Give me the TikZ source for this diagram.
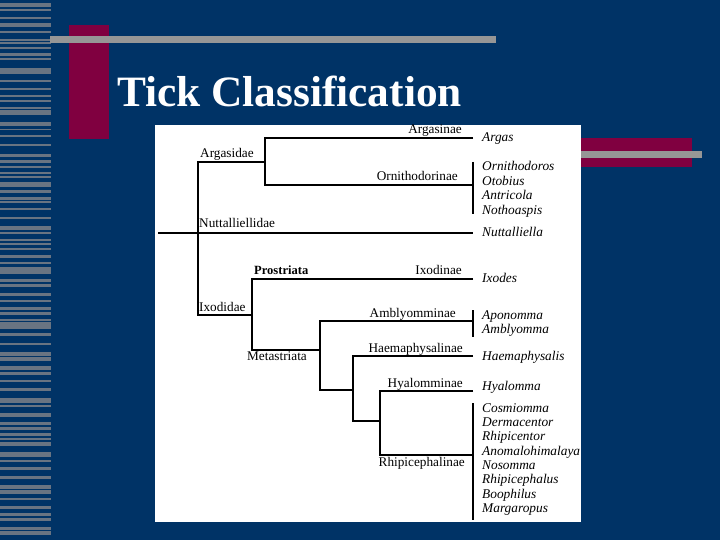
\documentclass[tikz,border=0pt]{standalone}
\usepackage{fontspec}
\setmainfont{Liberation Serif}
\usetikzlibrary{positioning}
\definecolor{slideblue}{RGB}{0,51,102}
\definecolor{slidemaroon}{RGB}{128,0,64}
\definecolor{slidegray}{RGB}{150,150,150}
\definecolor{stripegray}{RGB}{105,116,130}
\tikzset{
  branch/.style={line width=2.7bp, black},
  clade/.style={inner sep=0, font=\fontsize{13.3}{14}\selectfont},
  genus/.style={inner sep=0, text height=11bp, text depth=3bp, font=\fontsize{13.4}{14}\selectfont\itshape},
}

\begin{document}
\begin{tikzpicture}[x=1bp, y=-1bp]
    % Slide
    \useasboundingbox (0,0) rectangle (720,540);
    \fill[slideblue] (0,0) rectangle (720,540);
    \foreach \y/\h in {3/4.5, 9.5/1.5, 17/2, 23/4, 31/2, 39.5/1.5, 42/2, 47/2, 53/3, 58/2.5, 68/6, 80/2, 88/2, 95/2.5, 100/2, 107/2, 110/5, 122/4, 129/1, 135/2, 144/2, 154/3.5, 160/3, 166/2, 172/2, 176/2, 182/5, 190/3, 197/3, 201/2, 208/2, 217/2, 226/4, 232/2, 239/2, 243/2.5, 248/2, 255/3.5, 262/2, 267/2.5, 270/4, 279/2.5, 284/3, 293/3, 300/2, 307/2.5, 312/3, 319/1.5, 322/6.5, 333/2.5, 343/2, 352/3.5, 357/3.5, 366/4, 372/2.5, 380/2, 388/2.5, 398/4.5, 405/2, 413/3.5, 422/2.5, 427/2.5, 433/2.5, 438/2, 442/3.5, 452/5, 460/2, 467/2.5, 476/2.5, 485/3.5, 490/3.5, 498/2, 506/2.5, 513/2.5, 518/3, 527/2.5, 531/4}
        \fill[stripegray] (0,\y) rectangle (51,\y+\h);
    \fill[slidemaroon] (69,25) rectangle (109,139);
    \fill[slidegray] (50,36) rectangle (496,43);
    \fill[slidemaroon] (575,138) rectangle (692,167);
    \fill[slidegray] (560,151) rectangle (702,158);
    \node[anchor=base west, inner sep=0, text=white, font=\fontsize{43.5}{50}\selectfont\bfseries] (title) at (117,107) {Tick Classification};
    \fill[white] (155,125) rectangle (581,522);

    % Coordinates
    \coordinate (r-left) at (158,233);
    \coordinate (n-root) at (198,233);
    \coordinate (n-argasidae) at (265,162);
    \coordinate (n-ixodidae) at (252,315);
    \coordinate (n-metastriata) at (320,350);
    \coordinate (n-m2) at (353,390);
    \coordinate (n-m3) at (380,421);
    \coordinate (t-argas) at (473,138);
    \coordinate (t-orn) at (473,185);
    \coordinate (t-nutt) at (473,233);
    \coordinate (t-ixodes) at (473,279);
    \coordinate (t-ambly) at (473,321);
    \coordinate (t-haema) at (473,356);
    \coordinate (t-hyal) at (473,391);
    \coordinate (t-rhipi) at (473,455);
    \coordinate (b-orn-top) at (473,162);
    \coordinate (b-orn-bot) at (473,214);
    \coordinate (b-ambly-top) at (473,310);
    \coordinate (b-ambly-bot) at (473,337);
    \coordinate (b-rhipi-top) at (473,403);
    \coordinate (b-rhipi-bot) at (473,520);

    % Branches
    \draw[branch] (r-left) -- (t-nutt);
    \draw[branch] (n-argasidae) -| (n-root) |- (n-ixodidae);
    \draw[branch] (t-argas) -| (n-argasidae) |- (t-orn);
    \draw[branch] (t-ixodes) -| (n-ixodidae) |- (n-metastriata);
    \draw[branch] (t-ambly) -| (n-metastriata) |- (n-m2);
    \draw[branch] (t-haema) -| (n-m2) |- (n-m3);
    \draw[branch] (t-hyal) -| (n-m3) |- (t-rhipi);
    \draw[branch] (b-orn-top) -- (b-orn-bot);
    \draw[branch] (b-ambly-top) -- (b-ambly-bot);
    \draw[branch] (b-rhipi-top) -- (b-rhipi-bot);

    % Clade labels
    \node[clade, anchor=base west] (l-argasidae) at (200,158) {Argasidae};
    \node[clade, anchor=base west] (l-nuttalliellidae) at (199,228) {Nuttalliellidae};
    \node[clade, anchor=base west] (l-ixodidae) at (199,311) {Ixodidae};
    \node[clade, anchor=base west, font=\fontsize{12.6}{14}\selectfont\bfseries] (l-prostriata) at (254,275) {Prostriata};
    \node[clade, anchor=base west] (l-metastriata) at (247,360) {Metastriata};
    \node[clade, anchor=base east] (l-argasinae) at (462,134) {Argasinae};
    \node[clade, anchor=base east] (l-ornithodorinae) at (458,181) {Ornithodorinae};
    \node[clade, anchor=base east] (l-ixodinae) at (462,275) {Ixodinae};
    \node[clade, anchor=base east] (l-amblyomminae) at (456,317) {Amblyomminae};
    \node[clade, anchor=base east] (l-haemaphysalinae) at (463,352) {Haemaphysalinae};
    \node[clade, anchor=base east] (l-hyalomminae) at (463,387) {Hyalomminae};
    \node[clade, anchor=base east] (l-rhipicephalinae) at (465,466) {Rhipicephalinae};

    % Genera
    \node[genus, right=9bp of t-argas] (g-argas) {Argas};
    \node[genus, right=9bp of t-nutt] (g-nuttalliella) {Nuttalliella};
    \node[genus, right=9bp of t-ixodes] (g-ixodes) {Ixodes};
    \node[genus, right=9bp of t-haema] (g-haemaphysalis) {Haemaphysalis};
    \node[genus, anchor=west] (g-hyalomma) at (482,386) {Hyalomma};
    \node[genus, anchor=west] (g-ornithodoros) at (482,167) {Ornithodoros};
    \node[genus, below=0pt of g-ornithodoros.south west, anchor=north west] (g-otobius) {Otobius};
    \node[genus, below=0pt of g-otobius.south west, anchor=north west] (g-antricola) {Antricola};
    \node[genus, below=0pt of g-antricola.south west, anchor=north west] (g-nothoaspis) {Nothoaspis};
    \node[genus, anchor=west] (g-aponomma) at (482,315) {Aponomma};
    \node[genus, below=0pt of g-aponomma.south west, anchor=north west] (g-amblyomma) {Amblyomma};
    \node[genus, anchor=west] (g-cosmiomma) at (482,408) {Cosmiomma};
    \node[genus, below=0pt of g-cosmiomma.south west, anchor=north west] (g-dermacentor) {Dermacentor};
    \node[genus, below=0pt of g-dermacentor.south west, anchor=north west] (g-rhipicentor) {Rhipicentor};
    \node[genus, below=0pt of g-rhipicentor.south west, anchor=north west] (g-anomalohimalaya) {Anomalohimalaya};
    \node[genus, below=0pt of g-anomalohimalaya.south west, anchor=north west] (g-nosomma) {Nosomma};
    \node[genus, below=0pt of g-nosomma.south west, anchor=north west] (g-rhipicephalus) {Rhipicephalus};
    \node[genus, below=0pt of g-rhipicephalus.south west, anchor=north west] (g-boophilus) {Boophilus};
    \node[genus, below=0pt of g-boophilus.south west, anchor=north west] (g-margaropus) {Margaropus};
\end{tikzpicture}
\end{document}
